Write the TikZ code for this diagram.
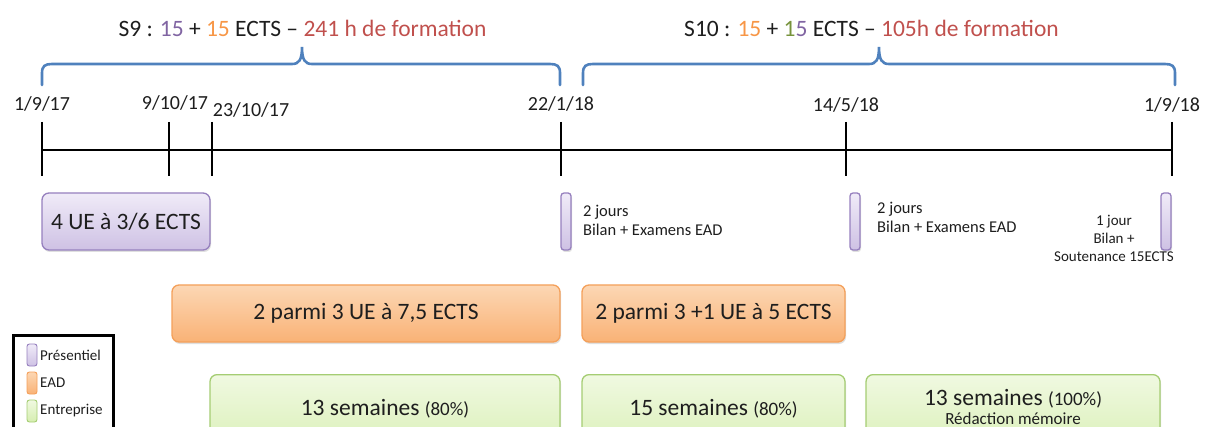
\documentclass[tikz,border=0pt]{standalone}
\usepackage{fontspec}
\setmainfont{Carlito}
\usetikzlibrary{shadows}
\definecolor{cpur}{RGB}{128,100,162}
\definecolor{cora}{RGB}{247,150,70}
\definecolor{cgrn}{RGB}{119,147,60}
\definecolor{cred}{RGB}{192,80,77}
\definecolor{cblue}{RGB}{79,129,189}
\definecolor{ptop}{RGB}{240,235,248}
\definecolor{pbot}{RGB}{206,193,228}
\definecolor{pbrd}{RGB}{150,128,190}
\definecolor{otop}{RGB}{252,215,180}
\definecolor{obot}{RGB}{249,178,118}
\definecolor{obrd}{RGB}{244,160,90}
\definecolor{gtop}{RGB}{240,249,225}
\definecolor{gbot}{RGB}{214,238,176}
\definecolor{gbrd}{RGB}{165,205,115}
\definecolor{txt}{RGB}{30,30,30}
\newcommand\pctfont{\fontsize{19}{21}\selectfont}
\tikzset{
  basebox/.style={rounded corners=7pt, line width=1.3pt, inner sep=0pt, align=center, text=txt,
    drop shadow={shadow xshift=1pt, shadow yshift=-2pt, opacity=0.25}},
  pbox/.style={basebox, draw=pbrd, top color=ptop, bottom color=pbot},
  obox/.style={basebox, draw=obrd, top color=otop, bottom color=obot},
  gbox/.style={basebox, draw=gbrd, top color=gtop, bottom color=gbot},
  pbar/.style={pbox, rounded corners=3pt, minimum width=10pt, minimum height=57pt},
  lico/.style={rounded corners=2.5pt, line width=0.9pt, inner sep=0pt, minimum width=10pt, minimum height=22pt},
  brace/.style={draw=cblue, line width=2.6pt, line cap=round},
  tline/.style={line width=2.8pt, black},
  datel/.style={font=\fontsize{20}{22}\selectfont, text=txt, inner sep=0pt},
  titl/.style={font=\fontsize{23.5}{26}\selectfont, text=txt, inner sep=0pt},
  big/.style={font=\fontsize{23.5}{26}\selectfont},
  small/.style={font=\fontsize{16.5}{19}\selectfont, text=txt, inner sep=0pt},
  legt/.style={font=\fontsize{15}{17}\selectfont, text=txt, inner sep=0pt, anchor=west},
}
\begin{document}
\begin{tikzpicture}[x=1pt,y=-1pt]
\useasboundingbox (0,0) rectangle (1206,427);
\clip (0,0) rectangle (1206,427);
% titles
\node[titl] (s9) at (302.5,28) {S9 : \textcolor{cpur}{15} + \textcolor{cora}{15} ECTS – \textcolor{cred}{241 h de formation}};
\node[titl] (s10) at (871.5,28) {S10 : \textcolor{cora}{15} + \textcolor{cgrn}{1}\textcolor{cpur}{5} ECTS – \textcolor{cred}{105h de formation}};
% braces
\draw[brace] (42,85) -- (42,73) .. controls (42,66) and (45,64) .. (52,64) -- (292,64)
  .. controls (299,64) and (302,60) .. (302,47) .. controls (302,60) and (305,64) .. (312,64)
  -- (550,64) .. controls (557,64) and (560,66) .. (560,73) -- (560,85);
\draw[brace] (583,85) -- (583,73) .. controls (583,66) and (586,64) .. (593,64) -- (869,64)
  .. controls (876,64) and (879,60) .. (879,47) .. controls (879,60) and (882,64) .. (889,64)
  -- (1165,64) .. controls (1172,64) and (1175,66) .. (1175,73) -- (1175,85);
% timeline
\coordinate (t0) at (42,150);
\coordinate (t1) at (169,150);
\coordinate (t2) at (212,150);
\coordinate (t3) at (561,150);
\coordinate (t4) at (846,150);
\coordinate (t5) at (1172,150);
\draw[tline] (t0) -- (t5);
\foreach \t in {t0,t1,t2,t3,t4,t5} \draw[tline] ([yshift=28pt]\t) -- ([yshift=-26pt]\t);
% dates
\node[datel] (d0) at (42,104) {1/9/17};
\node[datel] (d1) at (175,103) {9/10/17};
\node[datel] (d2) at (251,110) {23/10/17};
\node[datel] (d3) at (561,104) {22/1/18};
\node[datel] (d4) at (846,105) {14/5/18};
\node[datel] (d5) at (1172,105) {1/9/18};
% presentiel
\node[pbox, big, minimum width=168pt, minimum height=57pt] (p1) at (126,221.5) {4 UE à 3/6 ECTS};
\node[pbar] (b1) at (566,221.5) {};
\node[pbar] (b2) at (855,221.5) {};
\node[pbar] (b3) at (1166,221.5) {};
\node[small, anchor=north west, align=left] (b1t) at (583,205) {2 jours\\Bilan + Examens EAD};
\node[small, anchor=north west, align=left] (b2t) at (877,202) {2 jours\\Bilan + Examens EAD};
\node[small, align=center, font=\fontsize{15}{18}\selectfont] (b3t) at (1114,238) {1 jour\\Bilan +\\Soutenance 15ECTS};
% EAD
\node[obox, big, minimum width=388pt, minimum height=57pt] (e1) at (366,313.5) {2 parmi 3 UE à 7,5 ECTS};
\node[obox, big, minimum width=263pt, minimum height=57pt] (e2) at (713.5,313.5) {2 parmi 3 +1 UE à 5 ECTS};
% entreprise
\node[gbox, minimum width=350pt, minimum height=90pt, anchor=north] (g1) at (385,374) {};
\node[gbox, minimum width=263pt, minimum height=90pt, anchor=north] (g2) at (713.5,374) {};
\node[gbox, minimum width=294pt, minimum height=90pt, anchor=north] (g3) at (1013,374) {};
\node[big, text=txt] (g1t) at (385,409) {13 semaines {\pctfont(80\%)}};
\node[big, text=txt] (g2t) at (713.5,409) {15 semaines {\pctfont(80\%)}};
\node[big, text=txt, inner sep=0pt] (g3t) at (1013,399) {13 semaines {\pctfont(100\%)}};
\node[small, font=\fontsize{17}{19}\selectfont] (g3s) at (1013,419) {Rédaction mémoire};
% legend
\draw[line width=3pt] (13,440) -- (13,335) -- (113,335) -- (113,440);
\node[lico, draw=pbrd, top color=ptop, bottom color=pbot] (l1) at (32,355) {};
\node[lico, draw=obrd, top color=otop, bottom color=obot] (l2) at (32,383) {};
\node[lico, draw=gbrd, top color=gtop, bottom color=gbot] (l3) at (32,411) {};
\node[legt] (l1t) at (40,355) {Présentiel};
\node[legt] (l2t) at (40,383) {EAD};
\node[legt] (l3t) at (40,411) {Entreprise};
\end{tikzpicture}
\end{document}
